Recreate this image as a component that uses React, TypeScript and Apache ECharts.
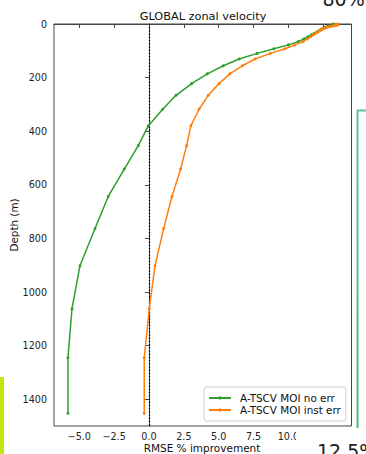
import React, { useEffect, useRef } from "react";
import * as echarts from "echarts";

const depths = [0.5, 1.5, 2.6, 3.8, 5.1, 6.4, 7.9, 9.6, 11.4, 13.5, 15.8, 18.5, 21.6, 25.2, 29.4, 34.4, 40.3, 47.4, 55.8, 65.8, 77.9, 92.3, 109.7, 130.7, 155.9, 186.1, 222.5, 266.0, 318.1, 380.2, 453.9, 541.1, 643.6, 763.3, 902.3, 1062.4, 1245.3, 1452.3];

const noErr = [13.2, 13.35, 13.4, 13.35, 13.25, 13.1, 12.95, 12.8, 12.7, 12.6, 12.5, 12.4, 12.3, 12.2, 12.05, 11.85, 11.65, 11.4, 11.1, 10.7, 10.0, 8.96, 7.76, 6.47, 5.33, 4.18, 3.06, 1.94, 0.98, -0.05, -0.77, -1.77, -2.92, -3.87, -4.95, -5.52, -5.81, -5.81];

const instErr = [13.4, 13.5, 13.55, 13.5, 13.4, 13.25, 13.1, 12.95, 12.8, 12.7, 12.55, 12.45, 12.35, 12.25, 12.1, 11.95, 11.8, 11.6, 11.35, 11.05, 10.45, 9.75, 8.7, 7.6, 6.7, 5.8, 5.02, 4.25, 3.59, 3.0, 2.7, 2.27, 1.65, 1.05, 0.43, 0.02, -0.34, -0.34];

const xTicks = [-5, -2.5, 0, 2.5, 5, 7.5, 10, 12.5];
const yTicks = [0, 200, 400, 600, 800, 1000, 1200, 1400];

const seriesNames = ["A-TSCV MOI no err", "A-TSCV MOI inst err"];

const FONT = "DejaVu Sans";

export default function App() {
  const ref = useRef<HTMLDivElement>(null);
  useEffect(() => {
    document.body.style.margin = "0";
    const chart = echarts.init(ref.current!, null, { renderer: "svg" });
    const fmtX = (v: number) => (v < 0 ? "\u2212" : "") + Math.abs(v).toFixed(1);
    chart.setOption({
      animation: false,
      backgroundColor: "#ffffff",
      grid: {
        left: 54,
        right: 14.5,
        top: 24,
        bottom: 28,
        show: true,
        borderColor: "#444",
        borderWidth: 1,
        backgroundColor: "transparent",
      },
      xAxis: {
        type: "value",
        min: -6.81,
        max: 14.52,
        axisLine: { show: true, lineStyle: { color: "#444", width: 1 } },
        axisTick: { show: true, customValues: xTicks, length: 4, lineStyle: { color: "#444" } },
        axisLabel: {
          customValues: xTicks,
          formatter: fmtX,
          margin: 5,
          fontFamily: FONT,
          fontSize: 9.6,
          color: "#222",
        },
        splitLine: { show: false },
      },
      yAxis: {
        type: "value",
        inverse: true,
        min: 0,
        max: 1500,
        axisLine: { show: true, lineStyle: { color: "#444", width: 1 } },
        axisTick: { show: true, customValues: yTicks, length: 4, lineStyle: { color: "#444" } },
        axisLabel: {
          customValues: yTicks,
          formatter: (v: number) => String(v),
          margin: 7,
          fontFamily: FONT,
          fontSize: 9.6,
          color: "#222",
        },
        splitLine: { show: false },
      },
      legend: {
        orient: "vertical",
        left: 204,
        top: 387,
        data: seriesNames,
        itemWidth: 22,
        itemHeight: 4,
        itemGap: 0,
        padding: [5, 5, 5, 4],
        backgroundColor: "rgba(255,255,255,0.85)",
        borderColor: "#d0d0d0",
        borderWidth: 1,
        borderRadius: 3,
        textStyle: {
          fontFamily: FONT,
          fontSize: 10.4,
          lineHeight: 12,
          color: "#111",
          padding: [0, 0, 0, 4],
        },
      },
      series: [
        {
          name: seriesNames[0],
          type: "line",
          data: depths.map((d, i) => [noErr[i], d]),
          symbol: "circle",
          symbolSize: 3,
          color: "#2ca02c",
          lineStyle: { width: 1.5, color: "#2ca02c" },
          itemStyle: { color: "#2ca02c" },
          z: 3,
          markLine: {
            silent: true,
            symbol: "none",
            label: { show: false },
            lineStyle: { type: [1.3, 1.9], color: "#000", width: 1.3 },
            data: [{ xAxis: 0 }],
            z: 2,
          },
        },
        {
          name: seriesNames[1],
          type: "line",
          data: depths.map((d, i) => [instErr[i], d]),
          symbol: "circle",
          symbolSize: 3,
          color: "#ff7f0e",
          lineStyle: { width: 1.5, color: "#ff7f0e" },
          itemStyle: { color: "#ff7f0e" },
          z: 4,
        },
      ],
      graphic: [
        {
          type: "text",
          x: 203,
          y: 16.5,
          style: {
            text: "GLOBAL zonal velocity",
            fontFamily: FONT,
            fontSize: 11.3,
            fill: "#111",
            textAlign: "center",
            textVerticalAlign: "middle",
          },
        },
        {
          type: "text",
          x: 14,
          y: 225,
          rotation: Math.PI / 2,
          style: {
            text: "Depth (m)",
            fontFamily: FONT,
            fontSize: 10.4,
            fill: "#111",
            textAlign: "center",
            textVerticalAlign: "middle",
          },
        },
        {
          type: "text",
          x: 202,
          y: 448,
          style: {
            text: "RMSE % improvement",
            fontFamily: FONT,
            fontSize: 10.5,
            fill: "#111",
            textAlign: "center",
            textVerticalAlign: "middle",
          },
        },
        {
          type: "rect",
          shape: { x: 0, y: 377, width: 4, height: 77 },
          style: { fill: "#c6e50f" },
          z: 100,
        },
        {
          type: "polyline",
          shape: { points: [[366, 110.5], [357.5, 110.5], [357.5, 454]] },
          style: {
            fill: "none",
            lineWidth: 2,
            stroke: new echarts.graphic.LinearGradient(0, 0, 0, 1, [
              { offset: 0, color: "#5cc0aa" },
              { offset: 1, color: "#45bb72" },
            ]),
          },
          z: 100,
        },
        {
          type: "rect",
          shape: { x: 296, y: 428, width: 70, height: 26 },
          style: { fill: "#ffffff" },
          z: 101,
        },
        {
          type: "text",
          x: 317,
          y: 451,
          style: {
            text: "12.5%",
            fontFamily: FONT,
            fontSize: 19,
            fill: "#222",
            textAlign: "left",
            textVerticalAlign: "middle",
          },
          z: 102,
        },
        {
          type: "text",
          x: 322.5,
          y: -0.7,
          style: {
            text: "80%",
            fontFamily: FONT,
            fontSize: 19,
            fill: "#222",
            textAlign: "left",
            textVerticalAlign: "middle",
          },
          z: 102,
        },
      ],
    });
    return () => chart.dispose();
  }, []);
  return (
    <div
      ref={ref}
      style={{ position: "fixed", left: 0, top: 0, width: 366, height: 454 }}
    />
  );
}
